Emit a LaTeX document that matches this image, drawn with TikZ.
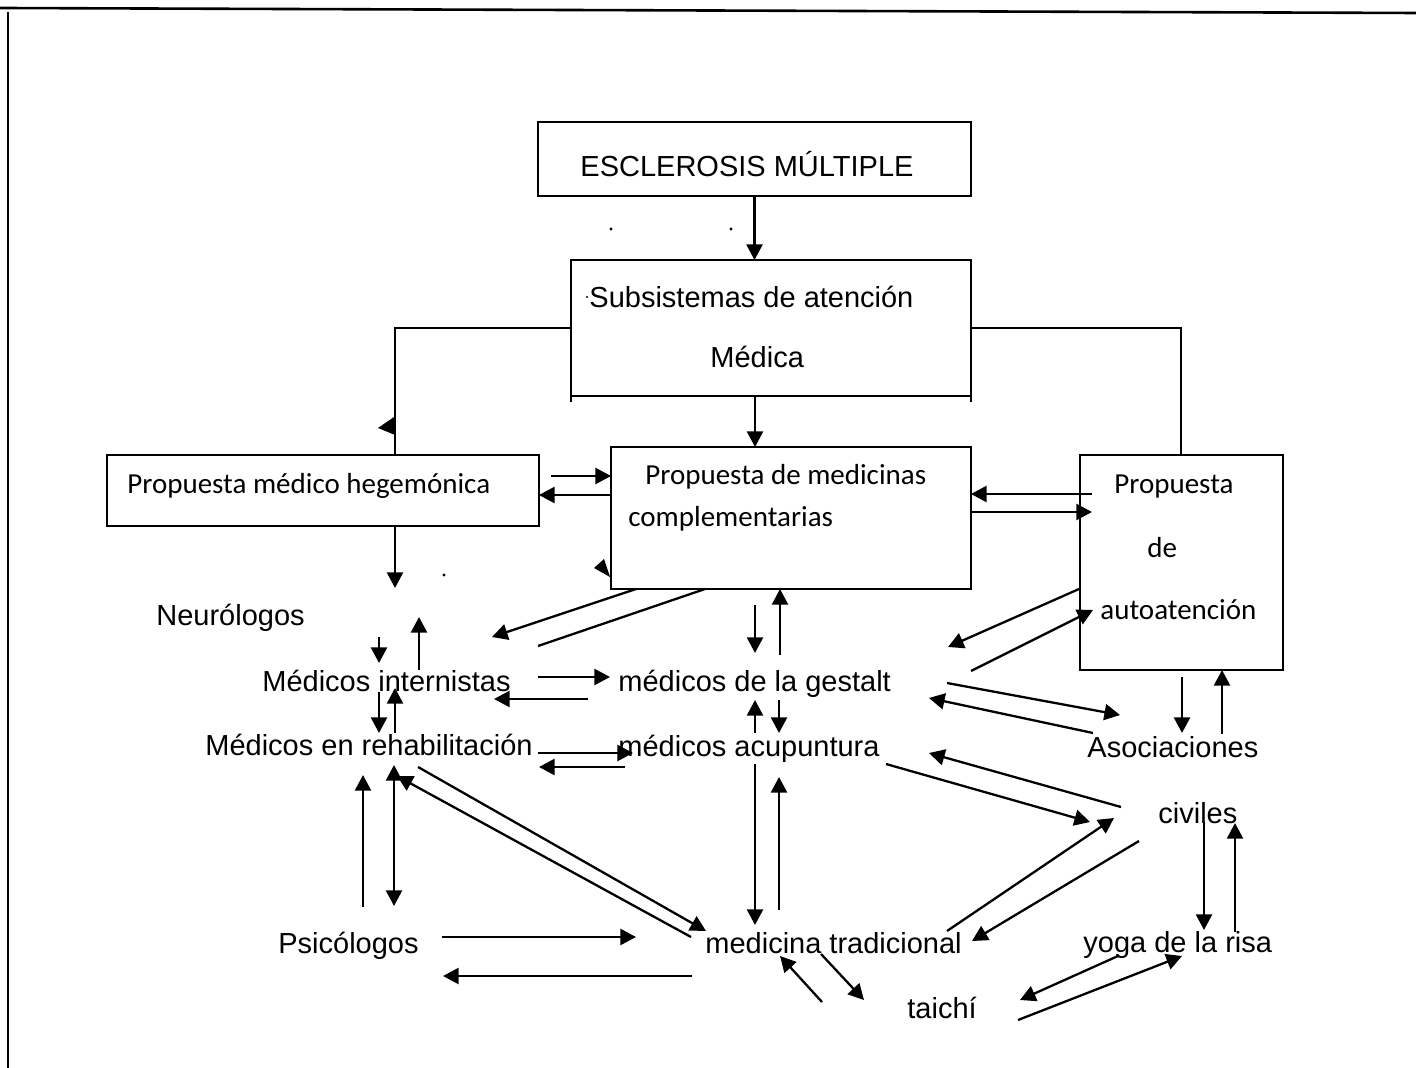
\documentclass[tikz,border=0pt]{standalone}
\usepackage{fontspec}
\setmainfont{Liberation Sans}
\newfontfamily\calib{Carlito}
\usetikzlibrary{arrows.meta}
\begin{document}
\begin{tikzpicture}[x=0.5pt,y=-0.5pt,
  box/.style={draw, line width=1pt, inner sep=0pt, outer sep=0pt},
  lbl/.style={anchor=base west, inner sep=0pt, font=\fontsize{14.5}{17}\selectfont},
  clbl/.style={anchor=base west, inner sep=0pt, font=\calib\fontsize{14.5}{17}\selectfont},
  link/.style={line width=1.15pt},
  arr/.style={link, -{Triangle[length=7.8pt,width=8pt]}},
  darr/.style={link, {Triangle[length=7.8pt,width=8pt]}-{Triangle[length=7.8pt,width=8pt]}}
]
\useasboundingbox (0,0) rectangle (1416,1068);

% page rules
\draw[line width=1.3pt] (0,8) -- (1416,13);
\draw[line width=0.7pt] (8,12) -- (8,1068);

% boxes
\node[box, minimum width=216.5pt, minimum height=37pt] (esc) at (754.5,159) {};
\node[box, minimum width=200pt, minimum height=68pt] (sub) at (771,328) {};
\node[box, minimum width=216pt, minimum height=35.5pt] (heg) at (323,490.5) {};
\node[box, minimum width=180pt, minimum height=71pt] (comp) at (791,518) {};
\node[box, minimum width=101.5pt, minimum height=107.5pt] (auto) at (1181.5,562.5) {};
\draw[line width=1pt] (sub.south west) -- ++(0,6);
\draw[line width=1pt] (sub.south east) -- ++(0,6);

% labels
\node[lbl] (tesc) at (580,177) {ESCLEROSIS MÚLTIPLE};
\node[lbl] (tsub1) at (589,308) {Subsistemas de atención};
\node[lbl] (tsub2) at (710,368) {Médica};
\node[clbl] (theg) at (127,494) {Propuesta médico hegemónica};
\node[clbl] (tcomp1) at (645,485) {Propuesta de medicinas};
\node[clbl] (tcomp2) at (628,526) {complementarias};
\node[clbl] (tauto1) at (1114,494) {Propuesta};
\node[clbl] (tauto2) at (1147,557) {de};
\node[clbl] (tauto3) at (1100,619) {autoatención};
\node[lbl] (neu) at (156,625) {Neurólogos};
\node[lbl] (int) at (262,691) {Médicos internistas};
\node[lbl] (ges) at (618,691) {médicos de la gestalt};
\node[lbl] (reh) at (205,755) {Médicos en rehabilitación};
\node[lbl] (acu) at (618,756) {médicos acupuntura};
\node[lbl] (aso) at (1087,757) {Asociaciones};
\node[lbl] (civ) at (1158,823) {civiles};
\node[lbl] (psi) at (278,953) {Psicólogos};
\node[lbl] (tra) at (705,953) {medicina tradicional};
\node[lbl] (yog) at (1083,952) {yoga de la risa};
\node[lbl] (tai) at (907,1018) {taichí};

% stray specks and arrowheads
\fill (611,229) circle (0.8pt);
\fill (731,229) circle (0.8pt);
\fill (444,575) circle (0.8pt);
\fill (587,297) circle (0.6pt);
\fill (394,417) -- (395,435) -- (378,428) -- cycle;
\fill (604,559) -- (610,577) -- (594,568) -- cycle;

% connector end points
\path (395,455) coordinate (hegin) (1181,455) coordinate (autoin)
      (755,396) coordinate (subout)
      (551,476) coordinate (hc1) (611,495) coordinate (ch1)
      (1092,494) coordinate (pa1) (971,512) coordinate (pa2) (1092,512) coordinate (pa3)
      (395,526) coordinate (hegout) (395,588) coordinate (neuin)
      (636,589) coordinate (cb1) (492,637) coordinate (ip1)
      (705,589) coordinate (cb2) (538,646) coordinate (ip2)
      (379,637) coordinate (n1) (379,663) coordinate (n2)
      (419,670) coordinate (n3) (419,617) coordinate (n4)
      (538,677) coordinate (ig1) (610,677) coordinate (ig2)
      (588,699) coordinate (gi1) (494,699) coordinate (gi2)
      (755,605) coordinate (cg1) (755,653) coordinate (cg2)
      (780,655) coordinate (gc1)
      (379,692) coordinate (ir1) (379,733) coordinate (ir2)
      (395,733) coordinate (ri1) (395,688) coordinate (ri2)
      (755,733) coordinate (ga1) (755,700) coordinate (ga2)
      (779,700) coordinate (ga3) (779,733) coordinate (ga4)
      (538,753) coordinate (ra1) (633,753) coordinate (ra2)
      (625,767) coordinate (ar1) (539,767) coordinate (ar2)
      (1079,589) coordinate (ag1) (948,647) coordinate (ag2)
      (971,671) coordinate (ga5) (1093,610) coordinate (ga6)
      (947,683) coordinate (gs1) (1120,715) coordinate (gs2)
      (1093,733) coordinate (sg1) (929,698) coordinate (sg2)
      (1182,677) coordinate (as1) (1182,733) coordinate (as2)
      (1222,734) coordinate (sa1)
      (363,907) coordinate (rp1) (363,775) coordinate (rp2)
      (394,765) coordinate (rp3) (394,906) coordinate (rp4)
      (418,767) coordinate (rt1) (706,931) coordinate (rt2)
      (691,937) coordinate (tr1) (397,776) coordinate (tr2)
      (442,937) coordinate (pt1) (636,937) coordinate (pt2)
      (692,976) coordinate (tp1) (443,976) coordinate (tp2)
      (755,764) coordinate (at1) (755,925) coordinate (at2)
      (779,910) coordinate (ta1) (779,777) coordinate (ta2)
      (886,764) coordinate (ac1) (1090,822) coordinate (ac2)
      (1121,807) coordinate (ca3) (929,753) coordinate (ca4)
      (947,931) coordinate (tc1) (1114,818) coordinate (tc2)
      (1139,841) coordinate (ct1) (972,941) coordinate (ct2)
      (821,954) coordinate (tt1) (864,1000) coordinate (tt2)
      (822,1002) coordinate (tt3) (780,956) coordinate (tt4)
      (1118,956) coordinate (ty1) (1020,1000) coordinate (ty2)
      (1018,1020) coordinate (ty3) (1182,956) coordinate (ty4)
      (1204,822) coordinate (cy1) (1204,930) coordinate (cy2)
      (1235,932) coordinate (cy3) (1235,823) coordinate (cy4);

% top of the hierarchy
\draw[arr] (esc.south) -- (esc.south |- sub.north);
\draw[link] (sub.west) -| (hegin);
\draw[link] (sub.east) -| (autoin);
\draw[arr] (subout) -- (subout |- comp.north);

% between the three proposals
\draw[arr] (hc1) -- (hc1 -| comp.west);
\draw[arr] (ch1) -- (ch1 -| heg.east);
\draw[arr] (pa1) -- (pa1 -| comp.east);
\draw[arr] (pa2) -- (pa3);
\draw[arr] (hegout) -- (neuin);

% medical specialists
\draw[arr] (cb1) -- (ip1);
\draw[link] (cb2) -- (ip2);
\draw[arr] (n1) -- (n2);
\draw[arr] (n3) -- (n4);
\draw[arr] (ig1) -- (ig2);
\draw[arr] (gi1) -- (gi2);
\draw[arr] (cg1) -- (cg2);
\draw[arr] (gc1) -- (gc1 |- comp.south);
\draw[arr] (ir1) -- (ir2);
\draw[arr] (ri1) -- (ri2);
\draw[arr] (ga1) -- (ga2);
\draw[arr] (ga3) -- (ga4);
\draw[arr] (ra1) -- (ra2);
\draw[arr] (ar1) -- (ar2);

% self-care side
\draw[arr] (ag1) -- (ag2);
\draw[arr] (ga5) -- (ga6);
\draw[arr] (gs1) -- (gs2);
\draw[arr] (sg1) -- (sg2);
\draw[arr] (as1) -- (as2);
\draw[arr] (sa1) -- (sa1 |- auto.south);

% lower network
\draw[arr] (rp1) -- (rp2);
\draw[darr] (rp3) -- (rp4);
\draw[arr] (rt1) -- (rt2);
\draw[arr] (tr1) -- (tr2);
\draw[arr] (pt1) -- (pt2);
\draw[arr] (tp1) -- (tp2);
\draw[arr] (at1) -- (at2);
\draw[arr] (ta1) -- (ta2);
\draw[arr] (ac1) -- (ac2);
\draw[arr] (ca3) -- (ca4);
\draw[arr] (tc1) -- (tc2);
\draw[arr] (ct1) -- (ct2);
\draw[arr] (tt1) -- (tt2);
\draw[arr] (tt3) -- (tt4);
\draw[arr] (ty1) -- (ty2);
\draw[arr] (ty3) -- (ty4);
\draw[arr] (cy1) -- (cy2);
\draw[arr] (cy3) -- (cy4);
\end{tikzpicture}
\end{document}
